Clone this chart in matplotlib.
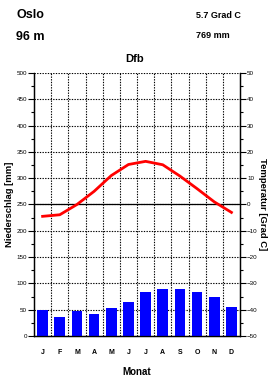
import numpy as np
import matplotlib.pyplot as plt

plt.rcParams["font.family"] = ["Liberation Sans", "DejaVu Sans"]
plt.rcParams["font.weight"] = "bold"

months = ["J", "F", "M", "A", "M", "J", "J", "A", "S", "O", "N", "D"]
precip = [49, 36, 47, 42, 53, 65, 84, 90, 90, 84, 74, 55]
temp = [-4.5, -3.9, 0.0, 5.0, 11.0, 15.2, 16.4, 15.1, 10.8, 6.0, 1.0, -3.0]

station = "Oslo"
height = "96 m"
climate = "Dfb"
mean_temp = "5.7 Grad C"
total_precip = "769 mm"

fig = plt.figure(figsize=(2.7, 3.78), dpi=100)
ax = fig.add_axes([0.126, 0.111, 0.763, 0.696])

x = np.arange(12) + 0.5
ax.bar(x, precip, width=0.62, color="#0000ff", zorder=3)

# temperature drawn on the precipitation scale: 0 C <-> 250 mm, 10 C <-> 50 mm
ax2 = ax.twinx()
ax2.set_ylim(-50, 50)
ax2.plot(x, temp, color="#ff0000", lw=2, zorder=4)

ax.set_xlim(0, 12)
ax.set_ylim(0, 500)
ax.set_yticks(np.arange(0, 501, 50))
ax.set_yticks(np.arange(0, 501, 25), minor=True)
ax2.set_yticks(np.arange(-50, 51, 10))
ax2.set_yticks(np.arange(-50, 51, 5), minor=True)

for v in np.arange(50, 501, 50):
    ax.axhline(v, color="black", ls=(0, (1.2, 1.2)), lw=0.8, zorder=1)
for v in range(1, 12):
    ax.axvline(v, color="black", ls=(0, (1.2, 1.2)), lw=0.8, zorder=1)
ax.axhline(250, color="black", lw=0.9, zorder=2)

ax.set_xticks(x)
ax.set_xticklabels(months, fontsize=5)
ax.tick_params(axis="x", length=0, pad=9)
ax.tick_params(axis="y", which="major", length=4, width=0.8, labelsize=4.5, pad=1)
ax.tick_params(axis="y", which="minor", length=2.5, width=0.8)
ax2.tick_params(axis="y", which="major", length=4, width=0.8, labelsize=4.5, pad=1)
ax2.tick_params(axis="y", which="minor", length=2.5, width=0.8)
for lab in ax.get_yticklabels() + ax2.get_yticklabels():
    lab.set_fontweight("normal")

for a in (ax, ax2):
    a.spines["top"].set_visible(False)
    for s in ("left", "right", "bottom"):
        a.spines[s].set_linewidth(0.9)

ax.set_ylabel("Niederschlag [mm]", fontsize=6.8, fontweight="bold", va="center")
ax.yaxis.set_label_coords(-0.12, 0.5)
ax2.set_ylabel("Temperatur [Grad C]", fontsize=6.8, fontweight="bold",
               rotation=-90, va="center")
ax2.yaxis.set_label_coords(1.11, 0.5)
ax.set_xlabel("Monat", fontsize=7, fontweight="bold", labelpad=8)

fig.text(0.06, 0.975, station, fontsize=9, fontweight="bold", va="top")
fig.text(0.06, 0.918, height, fontsize=9, fontweight="bold", va="top")
fig.text(0.725, 0.972, mean_temp, fontsize=6.5, fontweight="bold", va="top")
fig.text(0.725, 0.918, total_precip, fontsize=6.5, fontweight="bold", va="top")
fig.text(0.5, 0.845, climate, fontsize=8, fontweight="bold", ha="center",
         va="center")

fig.savefig("out.png", dpi=100)
